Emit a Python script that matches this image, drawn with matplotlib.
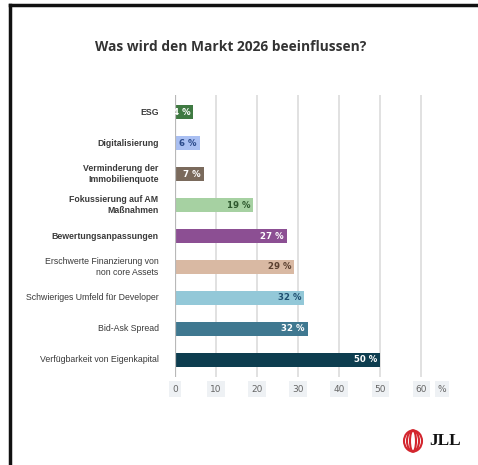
import matplotlib
matplotlib.use("Agg")
import matplotlib.pyplot as plt
from matplotlib.patches import Ellipse
from matplotlib.lines import Line2D

title = "Was wird den Markt 2026 beeinflussen?"
categories = [
    "ESG",
    "Digitalisierung",
    "Verminderung der\nImmobilienquote",
    "Fokussierung auf AM\nMaßnahmen",
    "Bewertungsanpassungen",
    "Erschwerte Finanzierung von\nnon core Assets",
    "Schwieriges Umfeld für Developer",
    "Bid-Ask Spread",
    "Verfügbarkeit von Eigenkapital",
]
values = [4.5, 6, 7, 19, 27.2, 29, 31.5, 32.3, 50]
value_labels = ["4 %", "6 %", "7 %", "19 %", "27 %", "29 %", "32 %", "32 %", "50 %"]
bar_colors = ["#3f7a42", "#a9bff2", "#7a6a5c", "#a6d1a2", "#8c4f93",
              "#d9b9a3", "#93c8d8", "#3f7890", "#0d3d4f"]
label_colors = ["#ffffff", "#2b4a8a", "#ffffff", "#2f5a2f", "#ffffff",
                "#5a4030", "#1f4f70", "#ffffff", "#ffffff"]
label_bold = [True, True, True, True, True, False, False, False, False]
xticks = [0, 10, 20, 30, 40, 50, 60]

W, H = 478, 465
fig = plt.figure(figsize=(W / 100, H / 100), dpi=100)
fig.patch.set_facecolor("white")

# frame lines (top and left)
fig.add_artist(Line2D([10 / W, 1], [1 - 5 / H, 1 - 5 / H], color="#111111", lw=2.5))
fig.add_artist(Line2D([10 / W, 10 / W], [0, 1 - 5 / H], color="#111111", lw=2.5))

x0, x60 = 175, 421.5
xmax = 62
px_per = (x60 - x0) / 60
ax_left = x0 / W
ax_w = px_per * xmax / W
top_px, bot_px = 95, 377
ax = fig.add_axes([ax_left, 1 - bot_px / H, ax_w, (bot_px - top_px) / H])

ypos = list(range(len(categories)))
ax.barh(ypos, values, height=0.48, color=bar_colors, zorder=3)
ax.set_ylim(len(categories) - 0.45, -0.55)
ax.set_xlim(0, xmax)

for x in xticks[1:]:
    ax.axvline(x, color="#dcdcdc", lw=1.2, zorder=1)
ax.axvline(0, color="#b8b8b8", lw=1.6, zorder=4)

for s in ax.spines.values():
    s.set_visible(False)
ax.set_xticks([])
ax.set_yticks([])

for y, v, lab, c in zip(ypos, values, value_labels, label_colors):
    ax.text(v - 0.7, y, lab, ha="right", va="center", fontsize=6.2,
            color=c, fontweight="bold", family="DejaVu Sans", zorder=5)

for y, cat, b in zip(ypos, categories, label_bold):
    ax.text(-4, y, cat, ha="right", va="center", fontsize=6.3,
            color="#3a3a3a", fontweight="bold" if b else "normal",
            family="Liberation Sans", linespacing=1.15,
            transform=ax.transData, clip_on=False)

# x tick labels with light boxes
for x in xticks:
    fig.text((x0 + x * px_per) / W, 1 - 389 / H, str(x), ha="center", va="center",
             fontsize=6.5, color="#666666",
             bbox=dict(boxstyle="square,pad=0.35", fc="#eef1f4", ec="none"))
fig.text(442 / W, 1 - 389 / H, "%", ha="center", va="center", fontsize=6.5,
         color="#666666", bbox=dict(boxstyle="square,pad=0.35", fc="#eef1f4", ec="none"))

fig.text(95 / W, 1 - 47 / H, title, ha="left", va="center", fontsize=9.9,
         fontweight="bold", color="#333333", family="Open Sans")

# JLL logo
for w in [18, 12, 6]:
    fig.add_artist(Ellipse((413 / W, 1 - 441 / H), w / W, 21 / H,
                           fill=False, ec="#d3262e", lw=1.5,
                           transform=fig.transFigure))
fig.text(429 / W, 1 - 441 / H, "JLL", ha="left", va="center", fontsize=12.5,
         fontweight="bold", color="#111111", family="Liberation Serif")

fig.savefig("out.png", dpi=100, facecolor="white")
